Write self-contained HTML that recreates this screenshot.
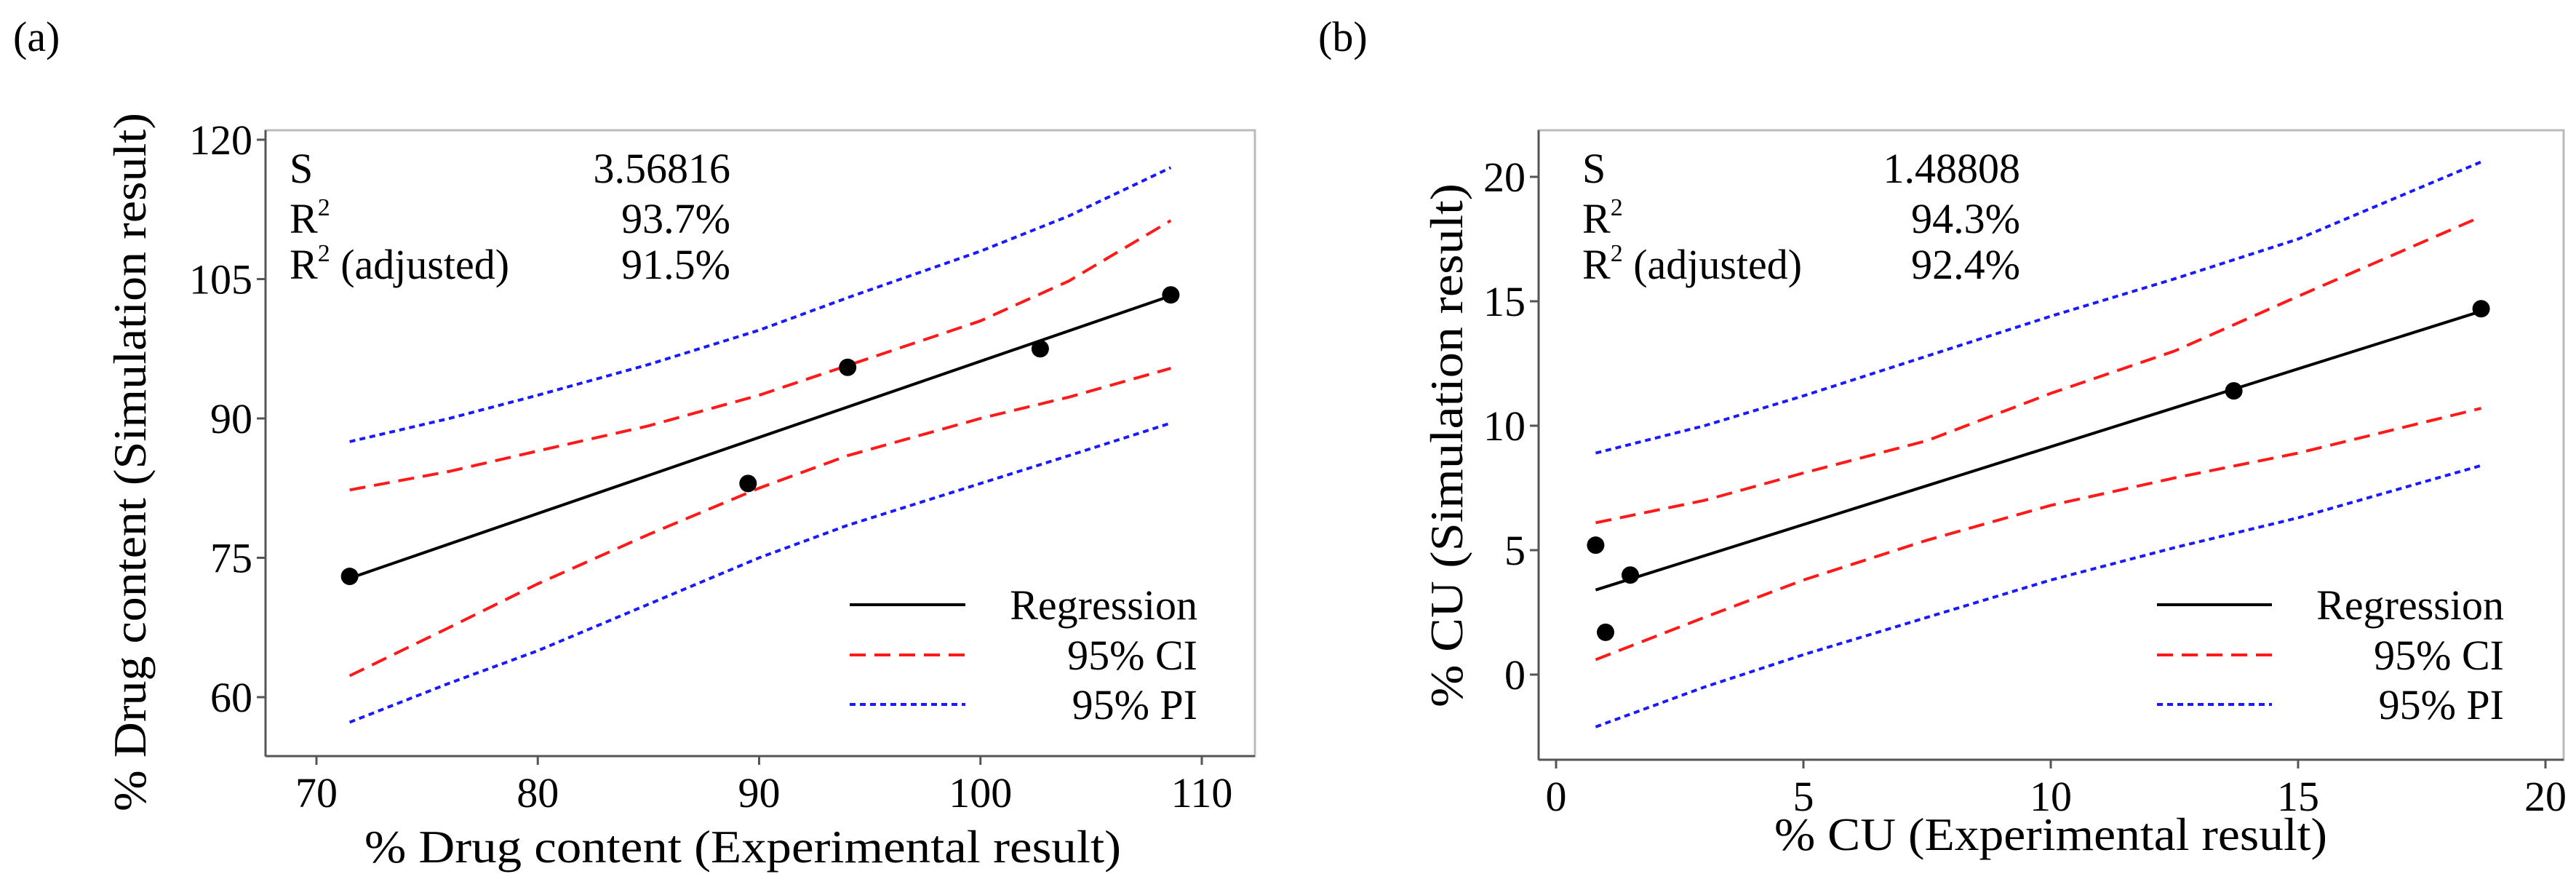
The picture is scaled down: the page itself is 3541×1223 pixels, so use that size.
<!DOCTYPE html>
<html><head><meta charset="utf-8"><style>
html,body{margin:0;padding:0;background:#fff;}
svg{display:block;font-family:"Liberation Serif",serif;}
</style></head><body>
<svg id="fig" width="3541" height="1223" viewBox="0 0 3541 1223"></svg>
<script>
// Panel (a) data
const aPointsX = [71.5, 89.5, 94.0, 102.7, 108.6];
const aPointsY = [73.0, 83.0, 95.5, 97.5, 103.3];
const aFitX = [71.5, 108.6];
const aFitY = [72.8, 103.2];
const aBandX = [71.5, 76, 80, 85, 90, 94, 100, 104, 108.6];
const aCiUp = [82.3, 84.3, 86.5, 89.2, 92.5, 95.7, 100.5, 104.8, 111.3];
const aCiLo = [62.3, 67.5, 72.2, 77.5, 82.5, 86.0, 90.0, 92.3, 95.4];
const aPiUp = [87.5, 90.0, 92.5, 95.8, 99.5, 103.0, 108.0, 111.8, 117.0];
const aPiLo = [57.3, 61.5, 65.0, 70.0, 75.0, 78.5, 83.0, 86.0, 89.5];
const aXTicks = [70, 80, 90, 100, 110];
const aYTicks = [60, 75, 90, 105, 120];
// Panel (b) data
const bPointsX = [0.8, 1.0, 1.5, 13.7, 18.7];
const bPointsY = [5.2, 1.7, 4.0, 11.4, 14.7];
const bFitX = [0.8, 18.7];
const bFitY = [3.4, 14.6];
const bBandX = [0.8, 3, 5, 7.5, 10, 12.5, 15, 18.7];
const bCiUp = [6.1, 7.0, 8.1, 9.4, 11.3, 13.0, 15.2, 18.4];
const bCiLo = [0.6, 2.3, 3.8, 5.4, 6.8, 7.9, 8.9, 10.7];
const bPiUp = [8.9, 10.0, 11.2, 12.8, 14.4, 15.9, 17.5, 20.6];
const bPiLo = [-2.1, -0.5, 0.8, 2.3, 3.8, 5.1, 6.3, 8.4];
const bXTicks = [0, 5, 10, 15, 20];
const bYTicks = [0, 5, 10, 15, 20];

const NS = "http://www.w3.org/2000/svg";
const svg = document.getElementById('fig');
function mk(tag, attrs, parent, text) {
  const e = document.createElementNS(NS, tag);
  for (const k in attrs) e.setAttribute(k, attrs[k]);
  if (text !== undefined) e.textContent = text;
  (parent || svg).appendChild(e);
  return e;
}

function panel(cfg) {
  const g = mk('g', {});
  
  
  const sx = v => cfg.x0px + (v - cfg.x0) * (cfg.x1px - cfg.x0px) / (cfg.x1 - cfg.x0);
  const sy = v => cfg.y0px + (v - cfg.y0) * (cfg.y1px - cfg.y0px) / (cfg.y1 - cfg.y0);
  const f = cfg.frame;
  const fr = mk('rect', {x: f[0], y: f[1], width: f[2]-f[0], height: f[3]-f[1], fill: 'none', stroke: '#bbb', 'stroke-width': 3}, g);
  
  
  mk('line', {x1: f[0], y1: f[1], x2: f[0], y2: f[3], stroke: '#555', 'stroke-width': 3}, g);
  mk('line', {x1: f[0], y1: f[3], x2: f[2], y2: f[3], stroke: '#555', 'stroke-width': 3}, g);
  cfg.xt.forEach(t => {
    const x = sx(t);
    mk('line', {x1: x, y1: f[3], x2: x, y2: f[3]+12, stroke: '#555', 'stroke-width': 3}, g);
    const tx = mk('text', {x: x, y: f[3]+70, 'font-size': 58, 'text-anchor': 'middle'}, g, String(t));
    
    
  });
  cfg.yt.forEach(t => {
    const y = sy(t);
    mk('line', {x1: f[0]-12, y1: y, x2: f[0], y2: y, stroke: '#555', 'stroke-width': 3}, g);
    const ty = mk('text', {x: f[0]-18, y: y+20, 'font-size': 58, 'text-anchor': 'end'}, g, String(t));
    
    
  });
  function poly(xs, ys, style, name) {
    const pts = xs.map((x, i) => sx(x) + ',' + sy(ys[i])).join(' ');
    const p = mk('polyline', Object.assign({points: pts, fill: 'none'}, style), g);
    
    
  }
  const red = {stroke: '#ff1a1a', 'stroke-width': 4, 'stroke-dasharray': '22 12'};
  const blue = {stroke: '#1a1aff', 'stroke-width': 4, 'stroke-dasharray': '8 6'};
  poly(cfg.bx, cfg.piUp, blue, 'pi-upper-line');
  poly(cfg.bx, cfg.piLo, blue, 'pi-lower-line');
  poly(cfg.bx, cfg.ciUp, red, 'ci-upper-line');
  poly(cfg.bx, cfg.ciLo, red, 'ci-lower-line');
  poly(cfg.fx, cfg.fy, {stroke: '#000', 'stroke-width': 4}, 'regression-line');
  cfg.px.forEach((x, i) => {
    const c = mk('circle', {cx: sx(x), cy: sy(cfg.py[i]), r: 12, fill: '#000'}, g);
    
    
  });
  // stats
  const st = cfg.stats;
  const rows = [['S', st[0]], ['R', st[1]], ['R (adjusted)', st[2]]];
  const ys = [251, 320, 383];
  rows.forEach((r, i) => {
    const t = mk('text', {x: cfg.sx, y: ys[i], 'font-size': 58}, g);
    
    
    if (i === 0) t.textContent = 'S';
    else {
      mk('tspan', {}, t, 'R');
      mk('tspan', {'font-size': 34, dy: -24}, t, '2');
      if (i === 2) mk('tspan', {dy: 24}, t, ' (adjusted)');
    }
    const v = mk('text', {x: cfg.vx, y: ys[i], 'font-size': 58, 'text-anchor': 'end'}, g, r[1]);
    
    
  });
  // legend
  const leg = [['Regression', {stroke: '#000', 'stroke-width': 4}], ['95% CI', red], ['95% PI', blue]];
  const ly = [831, 900, 968];
  leg.forEach((l, i) => {
    const ln = mk('line', Object.assign({x1: cfg.lx[0], x2: cfg.lx[1], y1: ly[i], y2: ly[i]}, l[1]), g);
    
    
    const lt = mk('text', {x: cfg.ltx, y: ly[i]+20, 'font-size': 58, 'text-anchor': 'end'}, g, l[0]);
    
    
  });
  const xl = mk('text', {x: cfg.xlab[0], y: cfg.xlab[1], 'font-size': 64, 'text-anchor': 'middle', textLength: cfg.xlab[3], lengthAdjust: 'spacingAndGlyphs'}, g, cfg.xlab[2]);
  
  
  const yl = mk('text', {x: 0, y: 0, 'font-size': 64, 'text-anchor': 'middle', transform: `translate(${cfg.ylab[0]},${cfg.ylab[1]}) rotate(-90)`, textLength: cfg.ylab[3], lengthAdjust: 'spacingAndGlyphs'}, g, cfg.ylab[2]);
  
  
  const pl = mk('text', {x: cfg.tag[0], y: cfg.tag[1], 'font-size': 58}, g, cfg.tag[2]);
  
  
}

panel({name: 'panel-a', x0: 70, x1: 110, x0px: 435, x1px: 1652, y0: 60, y1: 120, y0px: 958, y1px: 192,
  frame: [365, 179, 1725, 1039], xt: aXTicks, yt: aYTicks,
  px: aPointsX, py: aPointsY, fx: aFitX, fy: aFitY, bx: aBandX, ciUp: aCiUp, ciLo: aCiLo, piUp: aPiUp, piLo: aPiLo,
  stats: ['3.56816', '93.7%', '91.5%'], sx: 398, vx: 1004, lx: [1168, 1327], ltx: 1646,
  xlab: [1021, 1185, '% Drug content (Experimental result)', 1040],
  ylab: [200, 635, '% Drug content (Simulation result)', 960], tag: [18, 70, '(a)']});
panel({name: 'panel-b', x0: 0, x1: 20, x0px: 2139, x1px: 3499, y0: 0, y1: 20, y0px: 927, y1px: 243,
  frame: [2115, 179, 3524, 1044], xt: bXTicks, yt: bYTicks,
  px: bPointsX, py: bPointsY, fx: bFitX, fy: bFitY, bx: bBandX, ciUp: bCiUp, ciLo: bCiLo, piUp: bPiUp, piLo: bPiLo,
  stats: ['1.48808', '94.3%', '92.4%'], sx: 2175, vx: 2777, lx: [2965, 3123], ltx: 3442,
  xlab: [2819, 1168, '% CU (Experimental result)', 760],
  ylab: [2010, 612, '% CU (Simulation result)', 720], tag: [1812, 70, '(b)']});
</script>
</body></html>
